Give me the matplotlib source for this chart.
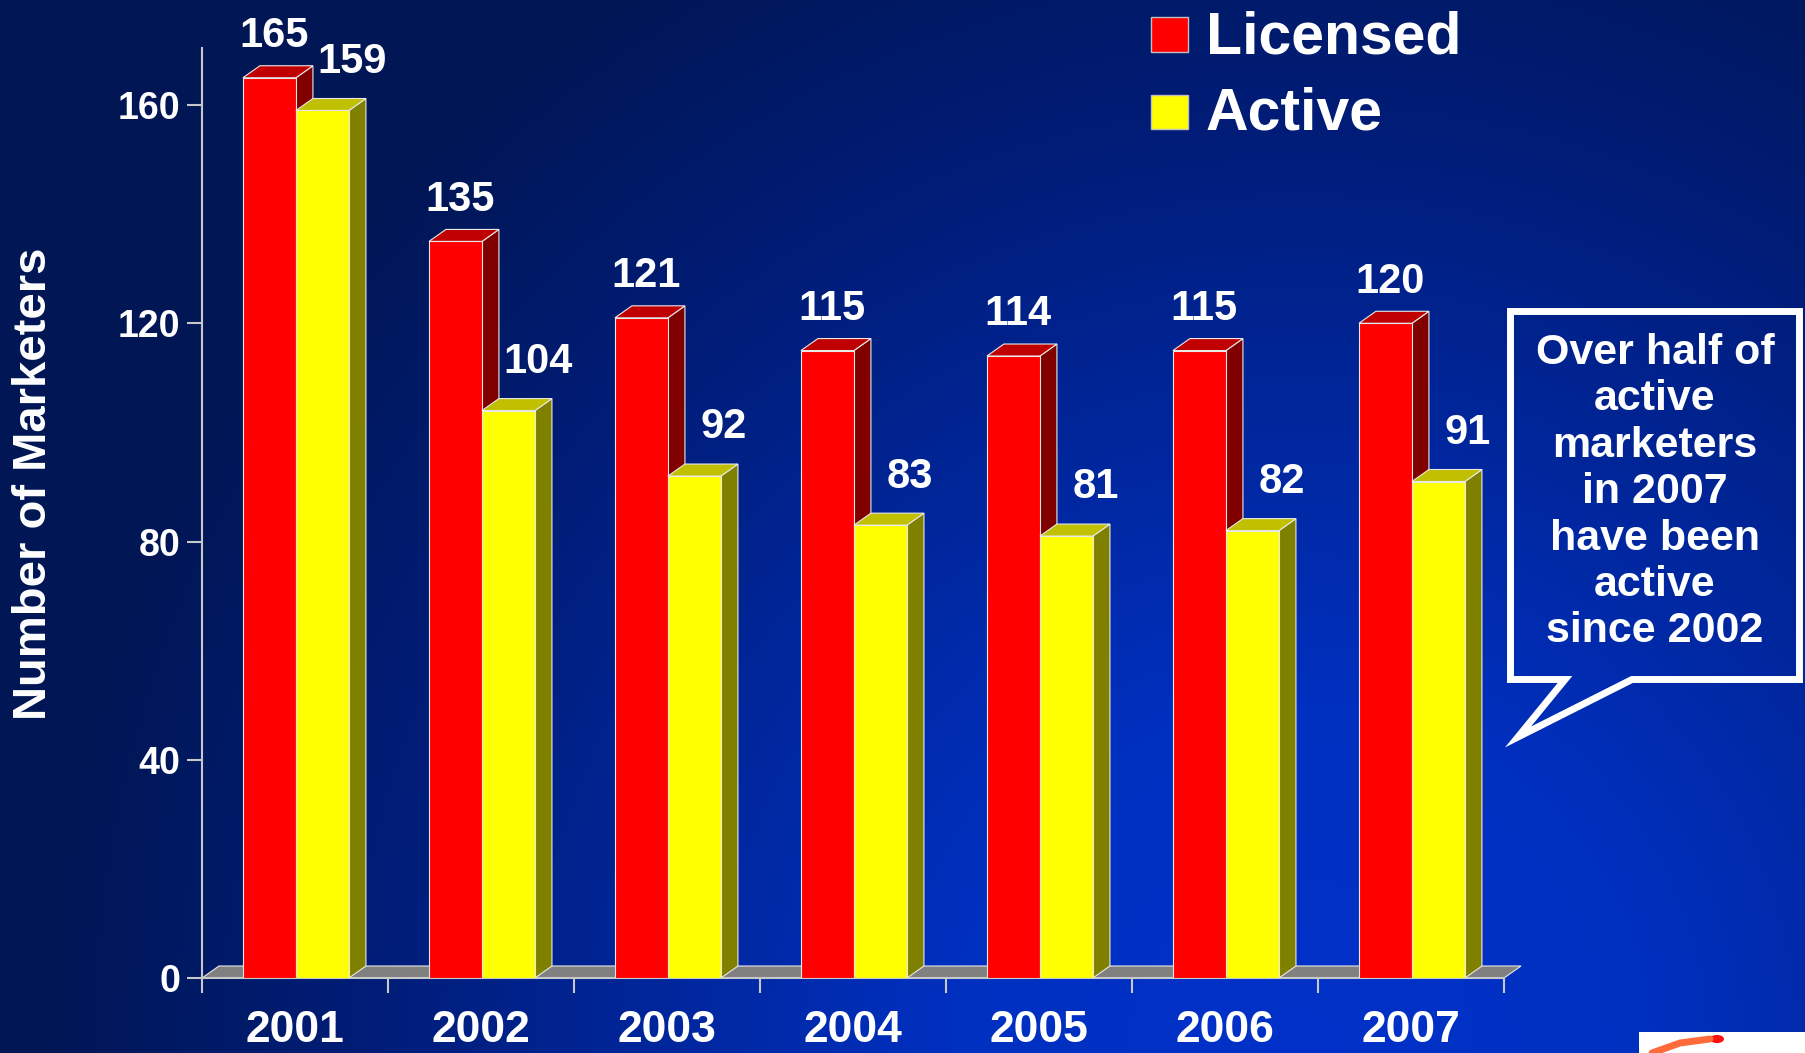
import numpy as np
import matplotlib
matplotlib.use('Agg')
import matplotlib.pyplot as plt
from matplotlib.patches import Polygon, Rectangle, Circle

# ---- data ----
years = ['2001', '2002', '2003', '2004', '2005', '2006', '2007']
licensed = [165, 135, 121, 115, 114, 115, 120]
active = [159, 104, 92, 83, 81, 82, 91]
yticks = [0, 40, 80, 120, 160]
series_names = ['Licensed', 'Active']
callout_lines = ['Over half of', 'active', 'marketers', 'in 2007',
                 'have been', 'active', 'since 2002']
ylabel = 'Number of Marketers'

# ---- styling ----
W, H, DPI = 1805, 1053, 100
plt.rcParams['font.family'] = ['Liberation Sans', 'DejaVu Sans']
plt.rcParams['font.weight'] = 'bold'

RED, RED_TOP, RED_SIDE = '#FF0000', '#C00000', '#800000'
YEL, YEL_TOP, YEL_SIDE = '#FFFF00', '#C0C000', '#808000'
EDGE = '#E8E8E8'
AXC = '#C8C8C8'

fig = plt.figure(figsize=(W / DPI, H / DPI), dpi=DPI)

# background gradient (bright toward lower right)
bg = fig.add_axes([0, 0, 1, 1], zorder=-10)
yy, xx = np.mgrid[0:H, 0:W]
d = np.hypot(xx - 1300.0, (yy - 1053.0))
g = np.interp(d, [0, 350, 950, 1080, 1250], [48, 48, 28, 26, 22])
b = np.interp(d, [0, 350, 950, 1080, 1250], [200, 192, 117, 104, 85])
img = np.dstack([np.zeros_like(g), g, b]) / 255.0
bg.imshow(img, extent=[0, 1, 0, 1], aspect='auto', origin='upper')
bg.set_xlim(0, 1)
bg.set_ylim(0, 1)
bg.axis('off')


def fx(px):
    return px / W


def fy(py):
    return 1 - py / H


# main axes
ax = fig.add_axes([fx(202), fy(978), 1302 / W, 930 / H])
ax.patch.set_alpha(0)
px_per_unit = 5.456
ymax = 930 / px_per_unit
n = len(years)
ax.set_xlim(0, n)
ax.set_ylim(0, ymax)

dx = 17 / 186.0
dy = 12 / px_per_unit
bw = 0.285
red_off = 0.22
yel_off = red_off + bw

# floor
floor = Polygon([(0, 0), (n, 0), (n + dx, dy), (dx, dy)], closed=True,
                facecolor='#808080', edgecolor=EDGE, lw=0.8, zorder=1,
                clip_on=False)
ax.add_patch(floor)

x = np.arange(n)


def draw_3d(left, vals, front, top, side, z):
    ax.bar(left, vals, width=bw, align='edge', color=front,
           edgecolor=EDGE, linewidth=0.8, zorder=z + 1)
    for xl, v in zip(left, vals):
        xr = xl + bw
        ax.add_patch(Polygon([(xr, 0), (xr + dx, dy), (xr + dx, v + dy), (xr, v)],
                             closed=True, facecolor=side, edgecolor=EDGE,
                             lw=0.8, zorder=z))
        ax.add_patch(Polygon([(xl, v), (xr, v), (xr + dx, v + dy), (xl + dx, v + dy)],
                             closed=True, facecolor=top, edgecolor=EDGE,
                             lw=0.8, zorder=z))


draw_3d(x + red_off, licensed, RED, RED_TOP, RED_SIDE, 2)
draw_3d(x + yel_off, active, YEL, YEL_TOP, YEL_SIDE, 4)

# value labels
for xi, v in zip(x, licensed):
    ax.annotate(str(v), (xi + red_off + bw / 2, v), xytext=(3, 30),
                textcoords='offset points', ha='center', va='center',
                color='white', fontsize=30, fontweight='bold', zorder=10)
for xi, v in zip(x, active):
    ax.annotate(str(v), (xi + yel_off + bw / 2, v), xytext=(21, 35),
                textcoords='offset points', ha='center', va='center',
                color='white', fontsize=30, fontweight='bold', zorder=10)

# axes styling
for s in ['top', 'right']:
    ax.spines[s].set_visible(False)
for s in ['left', 'bottom']:
    ax.spines[s].set_color(AXC)
    ax.spines[s].set_linewidth(1.5)

ax.set_yticks(yticks)
ax.set_yticklabels([str(t) for t in yticks])
ax.tick_params(axis='y', length=10.8, width=1.5, color=AXC, labelsize=27,
               labelcolor='white', pad=5)
ax.set_xticks(np.arange(n + 1))
ax.set_xticklabels([''] * (n + 1))
ax.set_xticks(x + 0.5, minor=True)
ax.set_xticklabels(years, minor=True)
ax.tick_params(axis='x', which='major', length=10.8, width=1.5, color=AXC)
ax.tick_params(axis='x', which='minor', length=0, labelsize=32,
               labelcolor='white', pad=23)

fig.text(fx(34), fy(484), ylabel, rotation=90, ha='center', va='center',
         color='white', fontsize=34, fontweight='bold')

# legend
for (y0, y1, col, name, base) in [(17, 52, RED, series_names[0], 53),
                                  (95, 129, YEL, series_names[1], 130)]:
    fig.patches.append(Rectangle((fx(1151), fy(y1)), 37 / W, (y1 - y0) / H,
                                 transform=fig.transFigure, facecolor=col,
                                 edgecolor='#C0C0C0', lw=1))
    fig.text(fx(1206), fy(base), name, ha='left', va='baseline',
             color='white', fontsize=42.5, fontweight='bold')

# callout
pts = [(1510.5, 311.5), (1799.5, 311.5), (1799.5, 679.5), (1632, 679.5),
       (1518, 737), (1565, 679.5), (1510.5, 679.5)]
fig.patches.append(Polygon([(fx(a), fy(c)) for a, c in pts], closed=True,
                           transform=fig.transFigure, fill=False,
                           edgecolor='white', lw=5, joinstyle='miter'))
for k, line in enumerate(callout_lines):
    fig.text(fx(1655), fy(364 + k * 46.4), line, ha='center', va='baseline',
             color='white', fontsize=31, fontweight='bold')

# logo fragment at lower right
fig.patches.append(Rectangle((fx(1639), 0), (W - 1639) / W, 21 / H,
                             transform=fig.transFigure, facecolor='white',
                             edgecolor='none'))
fig.lines.append(plt.Line2D([fx(1652), fx(1680), fx(1710)],
                            [fy(1053), fy(1043), fy(1039)],
                            transform=fig.transFigure, color='#FF6A3A',
                            lw=5, solid_capstyle='round'))
fig.patches.append(Circle((fx(1717), fy(1039)), 7 / W,
                          transform=fig.transFigure, facecolor='#FF1010',
                          edgecolor='none'))

fig.savefig('out.png', dpi=DPI)
